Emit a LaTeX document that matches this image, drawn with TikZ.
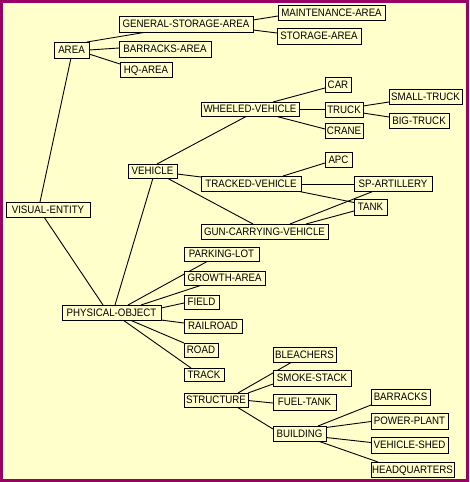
\documentclass[tikz,border=0pt]{standalone}
\usepackage{fontspec}
\setmainfont{Liberation Sans}[FakeStretch=0.9]
\usetikzlibrary{calc,backgrounds}
\definecolor{bgyellow}{RGB}{255,255,204}
\definecolor{framepurple}{RGB}{153,0,102}
\newcommand\tbox[6]{\node[box,minimum width={#4-#2},minimum height={#5-#3}] (#1) at (#2,#3) {#6};}
\newcommand\lk[6]{\draw[link] ($(#1.north west)+(#2,#3)$) -- ($(#4.north west)+(#5,#6)$);}
\begin{document}
\begin{tikzpicture}[x=1pt,y=-1pt,
  box/.style={draw=black,line width=0.9pt,fill=bgyellow,anchor=north west,inner sep=0pt,outer sep=0pt,
    font=\fontsize{10.8}{12}\selectfont,text height=7.7pt,text depth=0pt},
  link/.style={draw=black,line width=0.9pt}]
\useasboundingbox (0,0) rectangle (469,482);
\begin{pgfonlayer}{background}
\fill[bgyellow] (0,0) rectangle (469,482);
\end{pgfonlayer}
% nodes
\tbox{ve}{6}{202}{90}{217}{VISUAL-ENTITY}
\tbox{area}{54}{42}{89}{58}{AREA}
\tbox{gsa}{119}{16}{253}{32}{GENERAL-STORAGE-AREA}
\tbox{ba}{119}{41}{211}{57}{BARRACKS-AREA}
\tbox{hq}{120}{62}{172}{77}{HQ-AREA}
\tbox{ma}{278}{5}{385}{20}{MAINTENANCE-AREA}
\tbox{sa}{277}{28}{361}{44}{STORAGE-AREA}
\tbox{veh}{128}{164}{177}{178}{VEHICLE}
\tbox{wv}{201}{102}{299}{116}{WHEELED-VEHICLE}
\tbox{tv}{201}{176}{301}{191}{TRACKED-VEHICLE}
\tbox{gun}{201}{224}{328}{239}{GUN-CARRYING-VEHICLE}
\tbox{car}{325}{77}{351}{92}{CAR}
\tbox{truck}{325}{102}{363}{117}{TRUCK}
\tbox{crane}{325}{123}{363}{138}{CRANE}
\tbox{small}{389}{89}{462}{104}{SMALL-TRUCK}
\tbox{big}{389}{113}{449}{128}{BIG-TRUCK}
\tbox{apc}{325}{152}{352}{167}{APC}
\tbox{sp}{354}{176}{432}{191}{SP-ARTILLERY}
\tbox{tank}{354}{199}{387}{215}{TANK}
\tbox{po}{62}{305}{161}{320}{PHYSICAL-OBJECT}
\tbox{parking}{184}{247}{259}{261}{PARKING-LOT}
\tbox{growth}{184}{271}{265}{285}{GROWTH-AREA}
\tbox{field}{184}{295}{219}{309}{FIELD}
\tbox{railroad}{184}{319}{242}{333}{RAILROAD}
\tbox{road}{184}{343}{218}{357}{ROAD}
\tbox{track}{184}{368}{224}{381}{TRACK}
\tbox{structure}{184}{393}{248}{407}{STRUCTURE}
\tbox{bleachers}{273}{347}{336}{362}{BLEACHERS}
\tbox{smoke}{273}{370}{351}{386}{SMOKE-STACK}
\tbox{fuel}{273}{394}{336}{410}{FUEL-TANK}
\tbox{building}{273}{426}{326}{441}{BUILDING}
\tbox{barracks}{371}{389}{430}{405}{BARRACKS}
\tbox{power}{371}{413}{448}{429}{POWER-PLANT}
\tbox{vshed}{371}{437}{448}{453}{VEHICLE-SHED}
\tbox{hqs}{371}{462}{454}{477}{HEADQUARTERS}
% connectors
\begin{pgfonlayer}{background}
\lk{ve}{34}{0}{area}{17}{16}
\lk{ve}{38}{15}{po}{41}{0}
\lk{area}{33}{0}{gsa}{28}{16}
\lk{area}{35}{8}{ba}{0}{7}
\lk{area}{35}{12}{hq}{0}{2}
\lk{gsa}{134}{4}{ma}{0}{11}
\lk{gsa}{134}{14}{sa}{0}{5}
\lk{veh}{29}{0}{wv}{46}{14}
\lk{veh}{49}{10}{tv}{0}{1}
\lk{veh}{39}{14}{gun}{52}{0}
\lk{veh}{25}{14}{po}{53}{0}
\lk{wv}{72}{0}{car}{0}{11}
\lk{wv}{98}{7}{truck}{0}{7}
\lk{wv}{74}{14}{crane}{0}{6}
\lk{truck}{38}{4}{small}{0}{13}
\lk{truck}{38}{11}{big}{0}{4}
\lk{tv}{82}{0}{apc}{0}{11}
\lk{tv}{100}{8}{sp}{0}{8}
\lk{tv}{96}{15}{tank}{0}{3.5}
\lk{gun}{89}{0}{sp}{20}{15}
\lk{gun}{105}{0}{tank}{0}{12}
\lk{po}{66}{0}{parking}{24}{14}
\lk{po}{79}{0}{growth}{18}{14}
\lk{po}{99}{3}{field}{0}{8}
\lk{po}{99}{15}{railroad}{0}{4}
\lk{po}{68}{15}{road}{0}{0}
\lk{po}{61}{15}{track}{7}{0}
\lk{structure}{54}{0}{bleachers}{19}{15}
\lk{structure}{64}{0}{smoke}{0}{14}
\lk{structure}{64}{7.5}{fuel}{0}{9}
\lk{structure}{53}{14}{building}{0}{3}
\lk{building}{45}{0}{barracks}{0}{16}
\lk{building}{53}{1.5}{power}{0}{8.5}
\lk{building}{53}{11.5}{vshed}{0}{5.5}
\lk{building}{45}{15}{hqs}{7}{0}
\end{pgfonlayer}
\draw[framepurple,line width=3pt] (1.5,1.5) rectangle (467.5,480.5);
\end{tikzpicture}
\end{document}
